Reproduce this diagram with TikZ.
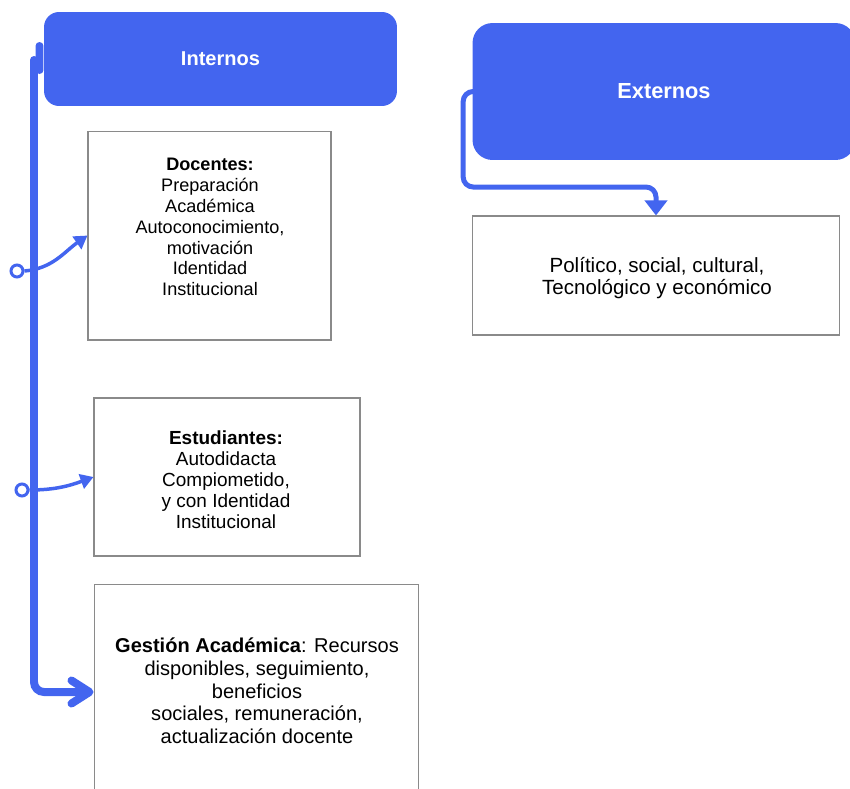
\documentclass[tikz,border=0pt]{standalone}
\usepackage{fontspec}
\setmainfont{Liberation Sans}
\definecolor{azul}{HTML}{4365EF}
\definecolor{borde}{HTML}{8A8A8A}
\usetikzlibrary{arrows.meta, positioning}
\tikzset{titulo/.style = {fill=azul, text=white, font=\bfseries, inner sep=0pt}}
\tikzset{caja/.style = {draw=borde, line width=0.6pt, inner sep=0pt}}
\tikzset{texto/.style = {align=center, inner sep=0pt}}
\tikzset{flujo/.style = {azul, line width=0.16cm, rounded corners=0.2cm, line cap=round}}
\tikzset{rama/.style = {azul, line width=0.07cm, -{Triangle[length=0.26cm, width=0.3cm]}}}
\tikzset{punto/.style = {circle, draw=azul, fill=white, line width=0.06cm, minimum size=0.24cm, inner sep=0pt}}
\tikzset{enlace/.style = {azul, line width=0.1cm, rounded corners=0.2cm, -{Triangle[length=0.3cm, width=0.44cm]}}}

\begin{document}
\begin{tikzpicture}[x=0.02cm, y=-0.02cm]
		\clip (0, 0) rectangle (850, 789);
		% titulos
		\node[titulo, rounded corners=0.3cm, minimum width=7.06cm, minimum height=1.88cm, font=\bfseries\fontsize{11.4}{13}\selectfont] (int) at (220.5, 59) {Internos};
		\node[titulo, rounded corners=0.4cm, minimum width=7.66cm, minimum height=2.74cm, font=\bfseries\fontsize{12.4}{14}\selectfont] (ext) at (664, 91.5) {Externos};
		% cajas
		\node[caja, minimum width=4.86cm, minimum height=4.18cm] (doc) at (209.5, 235.5) {};
		\node[caja, minimum width=5.32cm, minimum height=3.16cm] (est) at (227, 477) {};
		\node[caja, minimum width=6.5cm, minimum height=4.32cm] (ges) at (256.5, 692) {};
		\node[caja, minimum width=7.36cm, minimum height=2.38cm] (pol) at (656, 275.5) {};
		\node[texto, font=\fontsize{10.3}{11.9}\selectfont] (tdoc) at (210, 227) {\textbf{Docentes:}\\Preparación\\Académica\\Autoconocimiento,\\motivación\\Identidad\\Institucional};
		\node[texto, font=\fontsize{10.8}{12}\selectfont] (test) at (226, 480) {\textbf{Estudiantes:}\\Autodidacta\\Compiometido,\\y con Identidad\\Institucional};
		\node[texto, font=\fontsize{11.4}{12.9}\selectfont] (tges) at (257, 691) {\textbf{Gestión Académica}: Recursos\\disponibles, seguimiento,\\beneficios\\sociales, remuneración,\\actualización docente};
		\node[texto, font=\fontsize{11.7}{13}\selectfont] (tpol) at (657, 278) {Político, social, cultural,\\Tecnológico y económico};
		% conectores
		\coordinate (tope) at (39.5, 46);
		\coordinate (tronco) at (34, 60);
		\draw[flujo, -{Straight Barb[length=0.36cm, width=0.46cm, round]}] (tope) -- (39.5, 70) (tronco) |- (ges.west);
		\node[punto] (p1) at (17, 271) {};
		\node[punto] (p2) at (22, 490) {};
		\draw[rama] (p1.east) to[out=5, in=215] (doc.west);
		\draw[rama] (p2.east) to[out=0, in=200] (est.west);
		\coordinate (codo) at (656, 187);
		\draw[enlace] (ext.west) -- ++(-9, 0) |- (codo) -- (pol.north);
	\end{tikzpicture}
\end{document}
